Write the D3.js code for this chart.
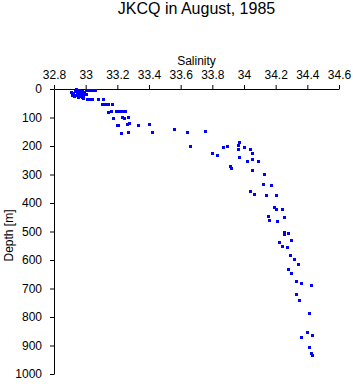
<!DOCTYPE html>
<html>
<head>
<meta charset="utf-8">
<script src="https://cdn.jsdelivr.net/npm/d3@7"></script>
<style>
    body { margin: 0; background: #fff; }
    svg { font-family: "Liberation Sans", Arial, sans-serif; }
    .axis text { font-size: 12px; fill: #000; }
    .axis path, .axis line { stroke: #000; }
</style>
</head>
<body>
<svg id="chart"></svg>
<script>
var title = "JKCQ in August, 1985",
    xlabel = "Salinity",
    ylabel = "Depth [m]";

var xTicks = [32.8, 33, 33.2, 33.4, 33.6, 33.8, 34, 34.2, 34.4, 34.6],
    yTicks = [0, 100, 200, 300, 400, 500, 600, 700, 800, 900, 1000];

// salinity / depth pairs
var salinity = [
    32.91, 32.92, 32.93, 32.94, 32.945, 32.95, 32.96, 32.965, 32.97, 32.98,
    32.985, 32.99, 32.915, 32.925, 32.95, 32.965, 32.98, 33.0, 32.94, 33.0,
    33.01, 33.02, 33.035, 33.045, 33.06, 32.985, 33.01, 33.025, 33.04, 33.08, 33.11,
    33.10, 33.12, 33.14, 33.165,
    33.14, 33.16, 33.19, 33.21, 33.23, 33.25,
    33.175, 33.23, 33.245, 33.27,
    33.195, 33.205, 33.26, 33.275,
    33.22, 33.27, 33.33, 33.40, 33.42,
    33.56, 33.64, 33.66, 33.755,
    33.80, 33.83, 33.87, 33.89,
    33.97, 33.96, 33.96, 34.00, 34.04, 34.05,
    33.97, 34.02, 34.05, 34.09, 34.05,
    33.91, 33.92, 34.125, 34.12, 34.17,
    34.04, 34.06, 34.14, 34.20,
    34.19, 34.20, 34.24,
    34.15, 34.16, 34.25, 34.21,
    34.25, 34.255, 34.28, 34.30,
    34.22, 34.24, 34.27,
    34.29, 34.315, 34.34,
    34.28, 34.30,
    34.33, 34.36, 34.42,
    34.33, 34.35,
    34.41,
    34.40, 34.43, 34.36,
    34.41, 34.42, 34.43
];
var depth = [
    10, 14, 7, 21, 10, 17, 4, 25, 14, 7,
    21, 10, 21, 25, 28, 7, 28, 4, 1, 18,
    3, 3, 3, 3, 3, 31, 35, 35, 35, 35, 35,
    52, 52, 52, 52,
    80, 78, 77, 77, 77, 77,
    101, 98, 100, 97,
    126, 126, 123, 120,
    154, 150, 126, 122, 150,
    140, 150, 200, 147,
    224, 231, 203, 200,
    186, 196, 210, 203, 210, 224,
    238, 252, 245, 252, 284,
    270, 277, 298, 333, 336,
    357, 368, 371, 371,
    413, 420, 420,
    445, 459, 448, 462,
    501, 508, 504, 529,
    536, 550, 553,
    581, 595, 613,
    630, 644,
    672, 680, 686,
    718, 739,
    785,
    851, 862, 869,
    904, 925, 932
];

var width = 353,
    height = 384,
    margin = {top: 89, right: 14, bottom: 10, left: 54},
    innerwidth = width - margin.left - margin.right,
    innerheight = height - margin.top - margin.bottom;

var xScale = d3.scaleLinear()
        .domain([32.8, 34.6])
        .range([0, innerwidth]),
    yScale = d3.scaleLinear()
        .domain([0, 1000])
        .range([0, innerheight]);

var svg = d3.select("#chart")
    .attr("width", width)
    .attr("height", height);

svg.append("text")
    .attr("x", margin.left + innerwidth / 2)
    .attr("y", 14)
    .attr("text-anchor", "middle")
    .style("font-size", "16px")
    .text(title);

var wrapper = svg.append("g")
    .attr("transform", "translate(" + margin.left + "," + margin.top + ")");

wrapper.append("g")
    .attr("class", "x axis")
    .call(d3.axisTop(xScale)
        .tickValues(xTicks)
        .tickFormat(function(d) { return String(d); })
        .tickSize(4)
        .tickSizeOuter(0)
        .tickPadding(6));

wrapper.append("text")
    .attr("x", innerwidth / 2)
    .attr("y", -24)
    .attr("text-anchor", "middle")
    .style("font-size", "12px")
    .text(xlabel);

wrapper.append("g")
    .attr("class", "y axis")
    .call(d3.axisLeft(yScale)
        .tickValues(yTicks)
        .tickFormat(function(d) { return String(d); })
        .tickSize(4)
        .tickSizeOuter(0)
        .tickPadding(8));

wrapper.append("text")
    .attr("transform", "translate(" + (-41) + "," + (innerheight / 2 + 4) + ") rotate(-90)")
    .attr("text-anchor", "middle")
    .style("font-size", "12px")
    .text(ylabel);

var points = salinity.map(function(s, i) { return {s: s, d: depth[i]}; });

wrapper.append("g")
    .selectAll("rect")
    .data(points)
    .enter()
    .append("rect")
    .attr("x", function(d) { return Math.round(xScale(d.s)) - 1; })
    .attr("y", function(d) { return Math.round(yScale(d.d)) - 1; })
    .attr("width", 3)
    .attr("height", 3)
    .attr("fill", "#0000ff");
</script>
</body>
</html>
